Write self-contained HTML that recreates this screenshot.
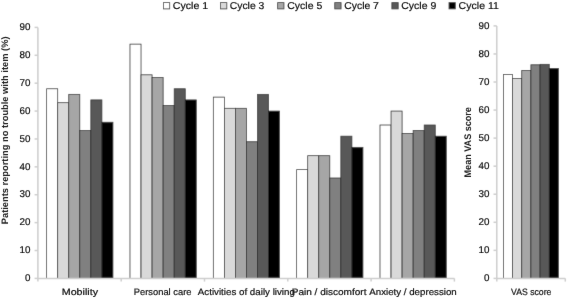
<!DOCTYPE html><html><head><meta charset="utf-8"><style>html,body{margin:0;padding:0;background:#fff;}svg{display:block;will-change:transform;}text{font-family:"Liberation Sans",sans-serif;text-rendering:geometricPrecision;}.r{stroke:#111111;stroke-width:0.2px;}</style></head><body>
<svg width="567" height="298" viewBox="0 0 567 298">
<defs><filter id="bl" filterUnits="userSpaceOnUse" x="0" y="0" width="567" height="298"><feConvolveMatrix order="3" kernelMatrix="0.0064 0.0672 0.0064 0.0672 0.7056 0.0672 0.0064 0.0672 0.0064" edgeMode="duplicate"/></filter><filter id="tbl" filterUnits="userSpaceOnUse" x="0" y="0" width="567" height="298"><feConvolveMatrix order="3" kernelMatrix="0.0016 0.0368 0.0016 0.0368 0.8464 0.0368 0.0016 0.0368 0.0016" edgeMode="duplicate"/></filter></defs><g filter="url(#bl)">
<rect width="567" height="298" fill="#fff"/>
<g id="shapes">
<rect x="46.65" y="88.76" width="11.05" height="189.64" fill="#ffffff" stroke="#2a2a2a" stroke-width="0.75"/>
<rect x="57.70" y="102.70" width="11.05" height="175.70" fill="#d9d9d9" stroke="#2a2a2a" stroke-width="0.75"/>
<rect x="68.75" y="94.33" width="11.05" height="184.07" fill="#a6a6a6" stroke="#2a2a2a" stroke-width="0.75"/>
<rect x="79.80" y="130.59" width="11.05" height="147.81" fill="#808080" stroke="#2a2a2a" stroke-width="0.75"/>
<rect x="90.85" y="99.91" width="11.05" height="178.49" fill="#595959" stroke="#2a2a2a" stroke-width="0.75"/>
<rect x="101.90" y="122.22" width="11.05" height="156.18" fill="#000000" stroke="#2a2a2a" stroke-width="0.75"/>
<rect x="129.98" y="44.13" width="11.05" height="234.27" fill="#ffffff" stroke="#2a2a2a" stroke-width="0.75"/>
<rect x="141.03" y="74.81" width="11.05" height="203.59" fill="#d9d9d9" stroke="#2a2a2a" stroke-width="0.75"/>
<rect x="152.08" y="77.60" width="11.05" height="200.80" fill="#a6a6a6" stroke="#2a2a2a" stroke-width="0.75"/>
<rect x="163.13" y="105.49" width="11.05" height="172.91" fill="#808080" stroke="#2a2a2a" stroke-width="0.75"/>
<rect x="174.19" y="88.76" width="11.05" height="189.64" fill="#595959" stroke="#2a2a2a" stroke-width="0.75"/>
<rect x="185.23" y="99.91" width="11.05" height="178.49" fill="#000000" stroke="#2a2a2a" stroke-width="0.75"/>
<rect x="213.32" y="97.12" width="11.05" height="181.28" fill="#ffffff" stroke="#2a2a2a" stroke-width="0.75"/>
<rect x="224.37" y="108.28" width="11.05" height="170.12" fill="#d9d9d9" stroke="#2a2a2a" stroke-width="0.75"/>
<rect x="235.42" y="108.28" width="11.05" height="170.12" fill="#a6a6a6" stroke="#2a2a2a" stroke-width="0.75"/>
<rect x="246.47" y="141.74" width="11.05" height="136.66" fill="#808080" stroke="#2a2a2a" stroke-width="0.75"/>
<rect x="257.52" y="94.33" width="11.05" height="184.07" fill="#595959" stroke="#2a2a2a" stroke-width="0.75"/>
<rect x="268.57" y="111.07" width="11.05" height="167.33" fill="#000000" stroke="#2a2a2a" stroke-width="0.75"/>
<rect x="296.65" y="169.63" width="11.05" height="108.77" fill="#ffffff" stroke="#2a2a2a" stroke-width="0.75"/>
<rect x="307.70" y="155.69" width="11.05" height="122.71" fill="#d9d9d9" stroke="#2a2a2a" stroke-width="0.75"/>
<rect x="318.75" y="155.69" width="11.05" height="122.71" fill="#a6a6a6" stroke="#2a2a2a" stroke-width="0.75"/>
<rect x="329.80" y="178.00" width="11.05" height="100.40" fill="#808080" stroke="#2a2a2a" stroke-width="0.75"/>
<rect x="340.85" y="136.17" width="11.05" height="142.23" fill="#595959" stroke="#2a2a2a" stroke-width="0.75"/>
<rect x="351.90" y="147.32" width="11.05" height="131.08" fill="#000000" stroke="#2a2a2a" stroke-width="0.75"/>
<rect x="379.99" y="125.01" width="11.05" height="153.39" fill="#ffffff" stroke="#2a2a2a" stroke-width="0.75"/>
<rect x="391.04" y="111.07" width="11.05" height="167.33" fill="#d9d9d9" stroke="#2a2a2a" stroke-width="0.75"/>
<rect x="402.09" y="133.38" width="11.05" height="145.02" fill="#a6a6a6" stroke="#2a2a2a" stroke-width="0.75"/>
<rect x="413.14" y="130.59" width="11.05" height="147.81" fill="#808080" stroke="#2a2a2a" stroke-width="0.75"/>
<rect x="424.19" y="125.01" width="11.05" height="153.39" fill="#595959" stroke="#2a2a2a" stroke-width="0.75"/>
<rect x="435.24" y="136.17" width="11.05" height="142.23" fill="#000000" stroke="#2a2a2a" stroke-width="0.75"/>
<rect x="503.40" y="74.60" width="9.17" height="203.80" fill="#ffffff" stroke="#2a2a2a" stroke-width="0.75"/>
<rect x="512.57" y="78.60" width="9.17" height="199.80" fill="#d9d9d9" stroke="#2a2a2a" stroke-width="0.75"/>
<rect x="521.74" y="70.60" width="9.17" height="207.80" fill="#a6a6a6" stroke="#2a2a2a" stroke-width="0.75"/>
<rect x="530.91" y="64.80" width="9.17" height="213.60" fill="#808080" stroke="#2a2a2a" stroke-width="0.75"/>
<rect x="540.08" y="64.30" width="9.17" height="214.10" fill="#595959" stroke="#2a2a2a" stroke-width="0.75"/>
<rect x="549.25" y="68.40" width="9.17" height="210.00" fill="#000000" stroke="#2a2a2a" stroke-width="0.75"/>
<line x1="37.9" y1="27.4" x2="37.9" y2="278.4" stroke="#cdcdcd" stroke-width="1.5"/>
<line x1="37.9" y1="278.4" x2="454.4" y2="278.4" stroke="#cdcdcd" stroke-width="1.5"/>
<line x1="34.60" y1="278.40" x2="37.9" y2="278.40" stroke="#cdcdcd" stroke-width="1.5"/>
<line x1="34.60" y1="250.51" x2="37.9" y2="250.51" stroke="#cdcdcd" stroke-width="1.5"/>
<line x1="34.60" y1="222.62" x2="37.9" y2="222.62" stroke="#cdcdcd" stroke-width="1.5"/>
<line x1="34.60" y1="194.73" x2="37.9" y2="194.73" stroke="#cdcdcd" stroke-width="1.5"/>
<line x1="34.60" y1="166.84" x2="37.9" y2="166.84" stroke="#cdcdcd" stroke-width="1.5"/>
<line x1="34.60" y1="138.96" x2="37.9" y2="138.96" stroke="#cdcdcd" stroke-width="1.5"/>
<line x1="34.60" y1="111.07" x2="37.9" y2="111.07" stroke="#cdcdcd" stroke-width="1.5"/>
<line x1="34.60" y1="83.18" x2="37.9" y2="83.18" stroke="#cdcdcd" stroke-width="1.5"/>
<line x1="34.60" y1="55.29" x2="37.9" y2="55.29" stroke="#cdcdcd" stroke-width="1.5"/>
<line x1="34.60" y1="27.40" x2="37.9" y2="27.40" stroke="#cdcdcd" stroke-width="1.5"/>
<line x1="37.90" y1="278.4" x2="37.90" y2="281.60" stroke="#cdcdcd" stroke-width="1.5"/>
<line x1="121.20" y1="278.4" x2="121.20" y2="281.60" stroke="#cdcdcd" stroke-width="1.5"/>
<line x1="204.50" y1="278.4" x2="204.50" y2="281.60" stroke="#cdcdcd" stroke-width="1.5"/>
<line x1="287.80" y1="278.4" x2="287.80" y2="281.60" stroke="#cdcdcd" stroke-width="1.5"/>
<line x1="371.10" y1="278.4" x2="371.10" y2="281.60" stroke="#cdcdcd" stroke-width="1.5"/>
<line x1="454.40" y1="278.4" x2="454.40" y2="281.60" stroke="#cdcdcd" stroke-width="1.5"/>
<line x1="496.8" y1="25.9" x2="496.8" y2="278.4" stroke="#cdcdcd" stroke-width="1.5"/>
<line x1="496.8" y1="278.4" x2="565.3" y2="278.4" stroke="#cdcdcd" stroke-width="1.5"/>
<line x1="493.50" y1="278.40" x2="496.8" y2="278.40" stroke="#cdcdcd" stroke-width="1.5"/>
<line x1="493.50" y1="250.34" x2="496.8" y2="250.34" stroke="#cdcdcd" stroke-width="1.5"/>
<line x1="493.50" y1="222.29" x2="496.8" y2="222.29" stroke="#cdcdcd" stroke-width="1.5"/>
<line x1="493.50" y1="194.23" x2="496.8" y2="194.23" stroke="#cdcdcd" stroke-width="1.5"/>
<line x1="493.50" y1="166.18" x2="496.8" y2="166.18" stroke="#cdcdcd" stroke-width="1.5"/>
<line x1="493.50" y1="138.12" x2="496.8" y2="138.12" stroke="#cdcdcd" stroke-width="1.5"/>
<line x1="493.50" y1="110.07" x2="496.8" y2="110.07" stroke="#cdcdcd" stroke-width="1.5"/>
<line x1="493.50" y1="82.01" x2="496.8" y2="82.01" stroke="#cdcdcd" stroke-width="1.5"/>
<line x1="493.50" y1="53.96" x2="496.8" y2="53.96" stroke="#cdcdcd" stroke-width="1.5"/>
<line x1="493.50" y1="25.90" x2="496.8" y2="25.90" stroke="#cdcdcd" stroke-width="1.5"/>
<line x1="496.80" y1="278.4" x2="496.80" y2="281.60" stroke="#cdcdcd" stroke-width="1.5"/>
<line x1="565.30" y1="278.4" x2="565.30" y2="281.60" stroke="#cdcdcd" stroke-width="1.5"/>
<rect x="163.40" y="2.6" width="6.3" height="6.3" fill="#ffffff" stroke="#333" stroke-width="0.8"/>
<rect x="220.52" y="2.6" width="6.3" height="6.3" fill="#d9d9d9" stroke="#333" stroke-width="0.8"/>
<rect x="277.64" y="2.6" width="6.3" height="6.3" fill="#a6a6a6" stroke="#333" stroke-width="0.8"/>
<rect x="334.76" y="2.6" width="6.3" height="6.3" fill="#808080" stroke="#333" stroke-width="0.8"/>
<rect x="391.88" y="2.6" width="6.3" height="6.3" fill="#595959" stroke="#333" stroke-width="0.8"/>
<rect x="449.00" y="2.6" width="6.3" height="6.3" fill="#000000" stroke="#333" stroke-width="0.8"/>
</g></g>
<g filter="url(#tbl)">
<text id="yl0" x="30.4" y="281.10" font-size="9.8" text-anchor="end" class="r" fill="#111111">0</text>
<text id="yr0" x="489.5" y="281.10" font-size="9.8" text-anchor="end" class="r" fill="#111111">0</text>
<text id="yl1" x="30.4" y="253.21" font-size="9.8" text-anchor="end" class="r" fill="#111111">10</text>
<text id="yr1" x="489.5" y="253.04" font-size="9.8" text-anchor="end" class="r" fill="#111111">10</text>
<text id="yl2" x="30.4" y="225.32" font-size="9.8" text-anchor="end" class="r" fill="#111111">20</text>
<text id="yr2" x="489.5" y="224.99" font-size="9.8" text-anchor="end" class="r" fill="#111111">20</text>
<text id="yl3" x="30.4" y="197.43" font-size="9.8" text-anchor="end" class="r" fill="#111111">30</text>
<text id="yr3" x="489.5" y="196.93" font-size="9.8" text-anchor="end" class="r" fill="#111111">30</text>
<text id="yl4" x="30.4" y="169.54" font-size="9.8" text-anchor="end" class="r" fill="#111111">40</text>
<text id="yr4" x="489.5" y="168.88" font-size="9.8" text-anchor="end" class="r" fill="#111111">40</text>
<text id="yl5" x="30.4" y="141.66" font-size="9.8" text-anchor="end" class="r" fill="#111111">50</text>
<text id="yr5" x="489.5" y="140.82" font-size="9.8" text-anchor="end" class="r" fill="#111111">50</text>
<text id="yl6" x="30.4" y="113.77" font-size="9.8" text-anchor="end" class="r" fill="#111111">60</text>
<text id="yr6" x="489.5" y="112.77" font-size="9.8" text-anchor="end" class="r" fill="#111111">60</text>
<text id="yl7" x="30.4" y="85.88" font-size="9.8" text-anchor="end" class="r" fill="#111111">70</text>
<text id="yr7" x="489.5" y="84.71" font-size="9.8" text-anchor="end" class="r" fill="#111111">70</text>
<text id="yl8" x="30.4" y="57.99" font-size="9.8" text-anchor="end" class="r" fill="#111111">80</text>
<text id="yr8" x="489.5" y="56.66" font-size="9.8" text-anchor="end" class="r" fill="#111111">80</text>
<text id="yl9" x="30.4" y="30.10" font-size="9.8" text-anchor="end" class="r" fill="#111111">90</text>
<text id="yr9" x="489.5" y="28.60" font-size="9.8" text-anchor="end" class="r" fill="#111111">90</text>
<text id="c0" x="61.74" y="294.7" font-size="9.2" textLength="36.34" lengthAdjust="spacingAndGlyphs" class="r" fill="#111111">Mobility</text>
<text id="c1" x="133.84" y="294.7" font-size="9.2" textLength="57.60" lengthAdjust="spacingAndGlyphs" class="r" fill="#111111">Personal care</text>
<text id="c2" x="197.82" y="294.7" font-size="9.2" textLength="97.08" lengthAdjust="spacingAndGlyphs" class="r" fill="#111111">Activities of daily living</text>
<text id="c3" x="291.74" y="294.7" font-size="9.2" textLength="74.70" lengthAdjust="spacingAndGlyphs" class="r" fill="#111111">Pain / discomfort</text>
<text id="c4" x="369.28" y="294.7" font-size="9.2" textLength="87.44" lengthAdjust="spacingAndGlyphs" class="r" fill="#111111">Anxiety / depression</text>
<text id="c5" x="511.00" y="294.7" font-size="9.2" textLength="40.36" lengthAdjust="spacingAndGlyphs" class="r" fill="#111111">VAS score</text>
<text id="l0" x="172.74" y="9.2" font-size="10" textLength="35.42" lengthAdjust="spacingAndGlyphs" class="r" fill="#111111">Cycle 1</text>
<text id="l1" x="229.74" y="9.2" font-size="10" textLength="34.62" lengthAdjust="spacingAndGlyphs" class="r" fill="#111111">Cycle 3</text>
<text id="l2" x="287.28" y="9.2" font-size="10" textLength="34.98" lengthAdjust="spacingAndGlyphs" class="r" fill="#111111">Cycle 5</text>
<text id="l3" x="344.28" y="9.2" font-size="10" textLength="34.62" lengthAdjust="spacingAndGlyphs" class="r" fill="#111111">Cycle 7</text>
<text id="l4" x="401.28" y="9.2" font-size="10" textLength="34.98" lengthAdjust="spacingAndGlyphs" class="r" fill="#111111">Cycle 9</text>
<text id="l5" x="458.64" y="9.2" font-size="10" textLength="40.26" lengthAdjust="spacingAndGlyphs" class="r" fill="#111111">Cycle 11</text>
<text id="t0" transform="translate(8.2,224.26) rotate(-90)" font-size="9.4" font-weight="bold" textLength="187.80" lengthAdjust="spacingAndGlyphs" fill="#222222">Patients reporting no trouble with item (%)</text>
<text id="t1" transform="translate(470.9,177.44) rotate(-90)" font-size="9.6" font-weight="bold" textLength="70.34" lengthAdjust="spacingAndGlyphs" fill="#222222">Mean VAS score</text>
</g></svg></body></html>
